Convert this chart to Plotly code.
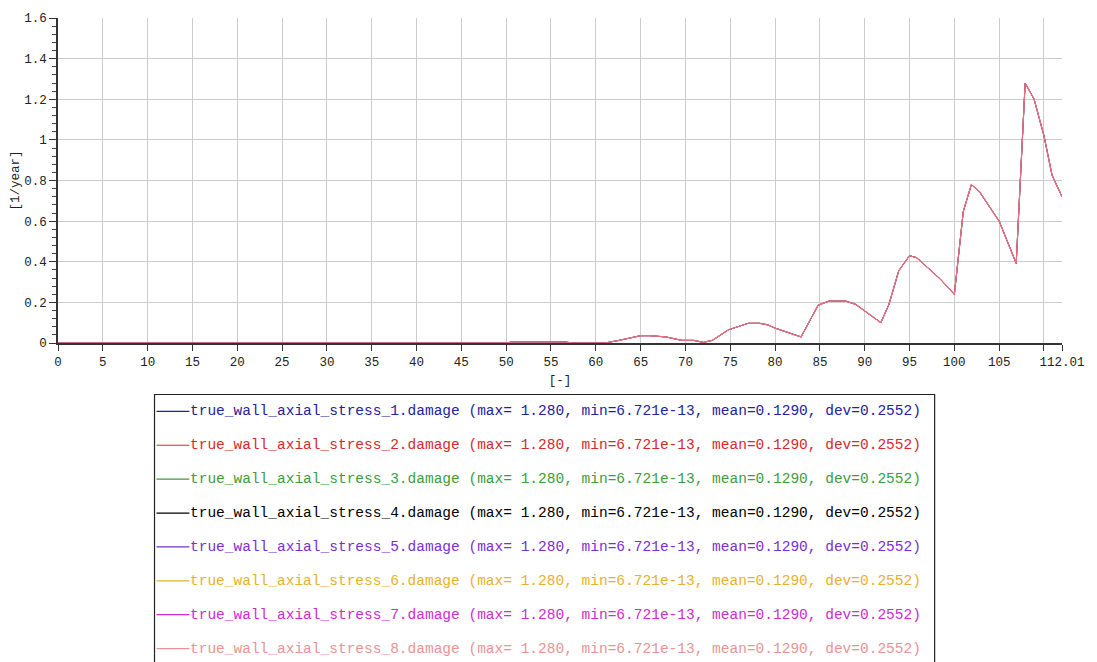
import plotly.graph_objects as go

# ---------------- data ----------------
x_vals = [0, 50, 50.6, 56.5, 57.5, 61, 62.6, 65, 66, 67.8, 69.6, 70.9, 72, 73, 74.8,
          77, 78.3, 79.2, 80, 82.9, 84.8, 86, 87.9, 89, 91.8, 92.7, 93.8, 95, 95.8,
          98.4, 100, 101, 101.9, 102.8, 105, 106.9, 107.9, 108.9, 110, 110.9, 112.01]
y_vals = [0, 0, 0.005, 0.005, 0, 0, 0.013, 0.036, 0.036, 0.03, 0.013, 0.013, 0.003, 0.013, 0.065,
          0.097, 0.097, 0.089, 0.073, 0.03, 0.186, 0.206, 0.206, 0.19, 0.10, 0.19, 0.356, 0.43, 0.42,
          0.316, 0.24, 0.648, 0.78, 0.745, 0.6, 0.392, 1.28, 1.2, 1.02, 0.826, 0.72]

series_names = [f"true_wall_axial_stress_{i}.damage" for i in range(1, 9)]
series_stats = ["(max= 1.280, min=6.721e-13, mean=0.1290, dev=0.2552)"] * 8
series_colors = ["#22229c", "#d42a2a", "#3c9c3c", "#000000",
                 "#7a2ed2", "#e8b02c", "#d02ad0", "#e89494"]
top_line_color = "#e6727e"

x_tickvals = list(range(0, 111, 5)) + [112.01]
x_ticktext = [str(v) for v in range(0, 106, 5)] + ["", "112.01"]

# ---------------- layout constants ----------------
W, H = 1097, 662
L, R, T, B = 58, 30, 15, 319
pw, ph = W - L - R, H - T - B
MONO = "Liberation Mono, Courier New, monospace"


def px(xp):
    return (xp - L) / pw


def py(yp):
    return (H - B - yp) / ph


fig = go.Figure()
n = len(series_names)
for k, (name, color) in enumerate(zip(series_names, series_colors)):
    last = k == n - 1
    fig.add_trace(go.Scatter(x=x_vals, y=y_vals, mode="lines", name=name,
                             line=dict(color=top_line_color if last else color,
                                       width=1.2 if last else 0.5),
                             showlegend=False))

# manual legend
shapes = [dict(type="rect", xref="paper", yref="paper",
               x0=px(155), x1=px(939), y0=py(395), y1=py(720),
               line=dict(color="#222222", width=1.2), fillcolor="rgba(0,0,0,0)", layer="above")]
annotations = []
for i, (name, stat, color) in enumerate(zip(series_names, series_stats, series_colors)):
    yp = 412 + 34.2 * i
    shapes.append(dict(type="line", xref="paper", yref="paper",
                       x0=px(157), x1=px(190), y0=py(yp), y1=py(yp),
                       line=dict(color=color, width=1.2)))
    annotations.append(dict(xref="paper", yref="paper", x=px(189), y=py(yp),
                            xanchor="left", yanchor="middle", showarrow=False,
                            text=f"{name} {stat}",
                            font=dict(family=MONO, size=14.5, color=color)))

fig.update_layout(
    width=W, height=H,
    margin=dict(l=L, r=R, t=T, b=B),
    paper_bgcolor="white", plot_bgcolor="white",
    shapes=shapes, annotations=annotations,
    font=dict(family=MONO, size=12, color="#222222"),
)
fig.update_xaxes(range=[0, 112.01], tickmode="array", tickvals=x_tickvals, ticktext=x_ticktext,
                 showgrid=True, gridcolor="#cccccc", gridwidth=1,
                 showline=True, linecolor="#333333", linewidth=1.5,
                 ticks="outside", ticklen=6, tickcolor="#333333",
                 tickfont=dict(family=MONO, size=12.5, color="#222222"),
                 zeroline=False,
                 title=dict(text="[-]", font=dict(family=MONO, size=12.5, color="#222222"), standoff=6))
fig.update_yaxes(range=[0, 1.6], dtick=0.2,
                 showgrid=True, gridcolor="#cccccc", gridwidth=1,
                 showline=True, linecolor="#333333", linewidth=1.5,
                 ticks="outside", ticklen=7, tickcolor="#333333",
                 minor=dict(dtick=0.04, ticks="outside", ticklen=4, tickcolor="#444444", tickwidth=1.2),
                 tickfont=dict(family=MONO, size=12.5, color="#222222"),
                 zeroline=False,
                 title=dict(text="[1/year]", font=dict(family=MONO, size=12.5, color="#222222"), standoff=2))

fig.write_html("out.html")
